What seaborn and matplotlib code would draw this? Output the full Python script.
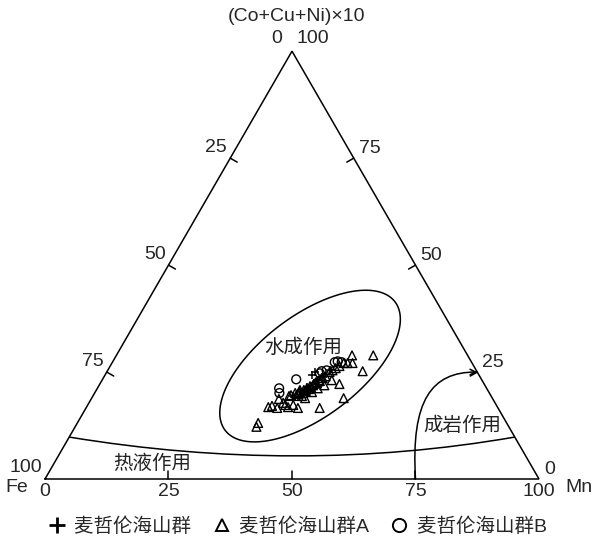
import numpy as np
import pandas as pd
import matplotlib
matplotlib.use("Agg")
import matplotlib.pyplot as plt
from matplotlib.path import Path
from matplotlib.patches import PathPatch, FancyArrowPatch
from matplotlib.lines import Line2D
import seaborn as sns

sns.set_style("white")
plt.rcParams["font.family"] = ["Liberation Sans", "Noto Sans CJK SC"]

# ---------------- data: Fe / Mn / (Co+Cu+Ni)x10, percent ----------------
group_names = ["麦哲伦海山群", "麦哲伦海山群A", "麦哲伦海山群B"]

seamount_fe = [33.8, 32.9, 36.2, 38.2, 33.3, 31.9, 29.7, 40.1]
seamount_mn = [41.9, 42.1, 42.3, 41.5, 43.6, 44.3, 44.9, 40.5]
seamount_cu = [24.3, 25.0, 21.5, 20.3, 23.1, 23.8, 25.4, 19.4]

group_a_fe = [23.4, 19.1, 24.2, 26.0, 23.1, 29.3, 30.1, 36.1, 40.5, 41.1,
              42.7, 44.7, 46.4, 45.5, 50.3, 51.1, 43.3, 42.4, 40.4, 39.3,
              38.8, 38.0, 37.2, 36.4, 35.5, 34.8, 33.9, 33.0, 32.2, 31.2,
              29.9, 29.1, 28.2, 27.2, 25.2, 30.4, 32.5, 34.2, 35.8, 38.3,
              37.9, 42.9, 40.9, 39.5, 38.4, 37.7, 36.9, 36.1, 35.4, 34.5,
              33.8, 32.9, 32.0]
group_a_mn = [47.7, 52.0, 48.7, 46.9, 51.7, 48.5, 51.0, 47.3, 42.9, 41.6,
              40.0, 38.7, 36.8, 37.4, 36.6, 36.7, 38.0, 40.8, 40.0, 40.6,
              41.3, 41.2, 42.0, 42.4, 42.8, 43.3, 43.5, 43.9, 44.2, 44.8,
              45.1, 45.5, 45.9, 46.4, 47.7, 46.5, 45.6, 44.6, 43.9, 42.3,
              43.2, 39.3, 39.7, 41.1, 41.3, 42.2, 42.5, 42.9, 43.1, 43.3,
              43.8, 44.2, 44.4]
group_a_cu = [28.9, 28.9, 27.1, 27.1, 25.2, 22.2, 18.9, 16.6, 16.6, 17.3,
              17.3, 16.6, 16.8, 17.1, 13.1, 12.2, 18.7, 16.8, 19.6, 20.1,
              19.9, 20.8, 20.8, 21.2, 21.7, 21.9, 22.6, 23.1, 23.6, 24.0,
              25.0, 25.4, 25.9, 26.4, 27.1, 23.1, 21.9, 21.2, 20.3, 19.4,
              18.9, 17.8, 19.4, 19.4, 20.3, 20.1, 20.6, 21.0, 21.5, 22.2,
              22.4, 22.9, 23.6]

group_b_fe = [37.5, 42.0, 42.5, 32.0, 30.3, 27.7, 27.0, 26.3, 31.4]
group_b_mn = [39.2, 36.8, 37.4, 43.3, 44.3, 45.0, 45.5, 46.4, 43.4]
group_b_cu = [23.3, 21.2, 20.1, 24.7, 25.4, 27.3, 27.5, 27.3, 25.2]

# genetic field boundaries, given as (Mn, (Co+Cu+Ni)x10) percent
hydrogenetic_mn = [27.0, 26.2, 27.0, 31.5, 42.0, 53.9, 54.8, 54.0, 50.2, 44.7, 38.7, 32.7]
hydrogenetic_cu = [16.8, 26.6, 31.8, 38.3, 43.5, 37.2, 34.1, 24.8, 16.1, 9.8, 8.4, 10.7]
hydrothermal_mn = [0.0, 47.9, 90.2]      # start, lowest point, end
hydrothermal_cu = [9.8, 5.4, 9.8]
diagenetic_mn = [75.0, 64.8, 65.8, 75.0]  # cubic Bezier control polygon
diagenetic_cu = [0.0, 18.5, 25.0, 25.0]

tick_values = [0, 25, 50, 75, 100]

SQ = np.sqrt(3) / 2


def to_xy(fe, mn, cu):
    fe, mn, cu = (np.asarray(v, dtype=float) for v in (fe, mn, cu))
    s = fe + mn + cu
    return (mn + cu / 2) / s, cu * SQ / s


def mc_xy(mn, cu):
    mn, cu = np.asarray(mn, float), np.asarray(cu, float)
    return to_xy(100 - mn - cu, mn, cu)


# ---------------- figure ----------------
W, H = 594, 543
S = 494.0                  # pixels per unit side of the triangle
X0, Y0 = 45, 479           # pixel location of the Fe corner
PX = 1 / S

fig = plt.figure(figsize=(W / 100, H / 100), dpi=100)
ax = fig.add_axes([0, 0, 1, 1])
ax.set_xlim(-X0 / S, (W - X0) / S)
ax.set_ylim(-(H - Y0) / S, Y0 / S)
ax.axis("off")

LW = 1.1
ax.plot([0, 1, 0.5, 0], [0, 0, SQ, 0], color="black", lw=LW, solid_joinstyle="miter")

# ticks
TL = 8 * PX
for v in tick_values[1:-1]:
    ax.plot([v / 100, v / 100], [0, TL], color="black", lw=LW)
    lx, ly = to_xy(v, 0, 100 - v)
    ax.plot([lx, lx + TL * SQ], [ly, ly - TL * 0.5], color="black", lw=LW)
    rx, ry = to_xy(0, 100 - v, v)
    ax.plot([rx, rx - TL * SQ], [ry, ry - TL * 0.5], color="black", lw=LW)

FS = 14
for v in tick_values:
    ax.text(v / 100, -12.5 * PX, str(v), ha="center", va="center", fontsize=FS)
for v in tick_values[1:]:
    lx, ly = to_xy(v, 0, 100 - v)
    ax.text(lx - 3 * PX, ly + 11 * PX, str(v), ha="right", va="center", fontsize=FS)
for v in tick_values[:-1]:
    rx, ry = to_xy(0, 100 - v, v)
    ax.text(rx + 5 * PX, ry + 10 * PX, str(v), ha="left", va="center", fontsize=FS)
ax.text(0.5 - 10 * PX, SQ + 13 * PX, "0", ha="right", va="center", fontsize=FS)
ax.text(0.5 + 5 * PX, SQ + 13 * PX, "100", ha="left", va="center", fontsize=FS)

ax.text(0.5 + 4.5 * PX, SQ + 35 * PX, "(Co+Cu+Ni)×10", ha="center", va="center", fontsize=FS)
ax.text(-28 * PX, -8 * PX, "Fe", ha="center", va="center", fontsize=FS)
ax.text(1 + 40 * PX, -9 * PX, "Mn", ha="center", va="center", fontsize=FS)

# ---------------- field boundaries ----------------
# hydrogenetic field: conic least-squares fit through the outline points
ex, ey = mc_xy(hydrogenetic_mn, hydrogenetic_cu)
A = np.column_stack([ex ** 2, ex * ey, ey ** 2, ex, ey])
coef, *_ = np.linalg.lstsq(A, np.ones_like(ex), rcond=None)
gx, gy = np.meshgrid(np.linspace(0.1, 0.9, 600), np.linspace(-0.05, 0.5, 600))
gf = coef[0] * gx ** 2 + coef[1] * gx * gy + coef[2] * gy ** 2 + coef[3] * gx + coef[4] * gy - 1
ax.contour(gx, gy, gf, levels=[0], colors="black", linewidths=LW)

# hydrothermal boundary: quadratic curve through its lowest point
hx, hy = mc_xy(hydrothermal_mn, hydrothermal_cu)
p0, pm, p2 = np.c_[hx, hy]
p1 = 2 * pm - (p0 + p2) / 2
ax.add_patch(PathPatch(Path([p0, p1, p2], [Path.MOVETO, Path.CURVE3, Path.CURVE3]),
                       fc="none", ec="black", lw=LW))

# diagenetic boundary with arrow
dx, dy = mc_xy(diagenetic_mn, diagenetic_cu)
dpath = Path(np.c_[dx, dy], [Path.MOVETO, Path.CURVE4, Path.CURVE4, Path.CURVE4])
ax.add_patch(FancyArrowPatch(path=dpath, arrowstyle="->", mutation_scale=10,
                             color="black", lw=LW, shrinkA=0, shrinkB=0))

# field names
for name, mn, cu in [("水成作用", 36.9, 30.6), ("成岩作用", 78.2, 12.4), ("热液作用", 19.9, 3.5)]:
    tx, ty = mc_xy(mn, cu)
    ax.text(tx, ty, name, ha="center", va="center", fontsize=FS, color="#222222")

# ---------------- samples ----------------
frames = []
for g, fe, mn, cu in zip(group_names,
                         [seamount_fe, group_a_fe, group_b_fe],
                         [seamount_mn, group_a_mn, group_b_mn],
                         [seamount_cu, group_a_cu, group_b_cu]):
    x, y = to_xy(fe, mn, cu)
    frames.append(pd.DataFrame({"x": x, "y": y, "group": g}))
df = pd.concat(frames, ignore_index=True)

MS = 40
sns.scatterplot(data=df[df.group == group_names[1]], x="x", y="y", marker="^", s=MS,
                facecolor="none", edgecolor="black", linewidth=1.0, legend=False, ax=ax)
sns.scatterplot(data=df[df.group == group_names[2]], x="x", y="y", marker="o", s=MS,
                facecolor="none", edgecolor="black", linewidth=1.0, legend=False, ax=ax)
sns.scatterplot(data=df[df.group == group_names[0]], x="x", y="y", marker="+", s=MS,
                color="black", linewidth=1.1, legend=False, ax=ax)

ax.set_xlim(-X0 / S, (W - X0) / S)
ax.set_ylim(-(H - Y0) / S, Y0 / S)
ax.set_xlabel("")
ax.set_ylabel("")

handles = [
    Line2D([], [], ls="none", marker="+", color="black", markersize=11, mew=2.0),
    Line2D([], [], ls="none", marker="^", mfc="none", mec="black", markersize=8.5, mew=1.4),
    Line2D([], [], ls="none", marker="o", mfc="none", mec="black", markersize=9.5, mew=1.4),
]
fig.legend(handles, group_names, loc="center", bbox_to_anchor=(0.5, 1 - 527 / H),
           ncol=3, frameon=False, fontsize=FS, handlelength=1.0, handletextpad=0.4,
           columnspacing=1.05)

fig.savefig("out.png", dpi=100)
